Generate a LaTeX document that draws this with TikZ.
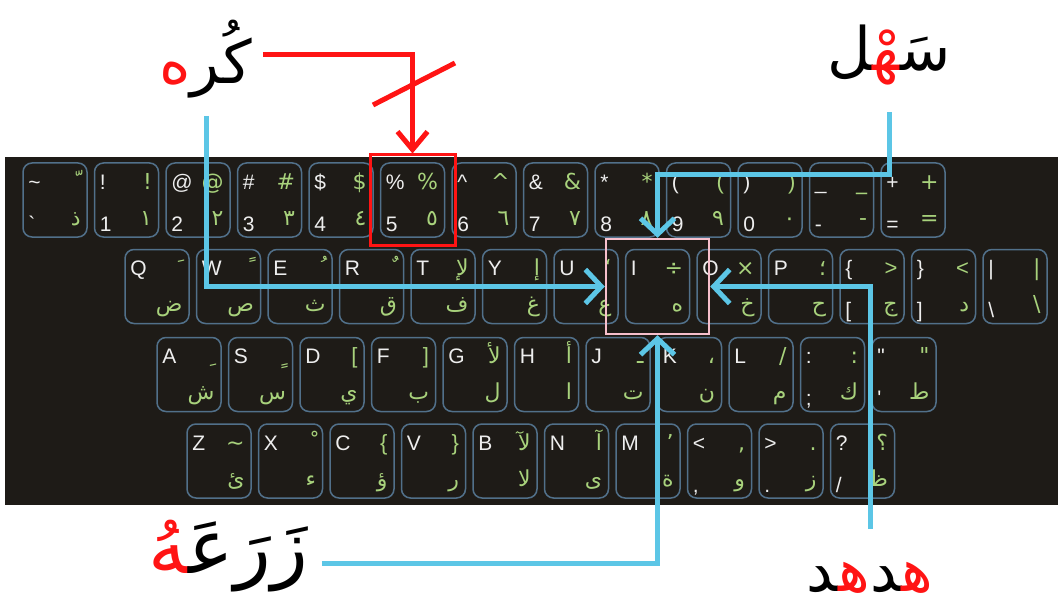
\documentclass[tikz,border=0pt]{standalone}
\usepackage{fontspec}
\usepackage{xcolor}
\usetikzlibrary{arrows.meta,positioning}
\newfontfamily\keyfont{Liberation Sans}
\newfontfamily\arabicfont[Script=Arabic]{DejaVu Sans}
\definecolor{boardbg}{HTML}{1E1B17}
\definecolor{keyedge}{HTML}{51708A}
\definecolor{keyink}{HTML}{EEEEEE}
\definecolor{keygreen}{HTML}{A8D27C}
\definecolor{pointer}{HTML}{5CC6E6}
\definecolor{markred}{HTML}{FF1414}
\definecolor{hilitepink}{HTML}{F7BFCC}

\tikzset{
  keybox/.style={draw=keyedge, line width=1.5pt, rounded corners=9pt, fill=boardbg,
    minimum width=64pt, minimum height=74pt, inner sep=0pt},
  whitelbl/.style={text=keyink, inner sep=0pt, font=\keyfont\fontsize{21}{21}\selectfont},
  greenlbl/.style={text=keygreen, inner sep=0pt, font=\arabicfont\fontsize{22}{22}\selectfont},
  wordlbl/.style={inner sep=0pt, font=\arabicfont\fontsize{60}{60}\selectfont},
  pinkbox/.style={draw=hilitepink, line width=2.5pt, minimum width=103pt, minimum height=95pt, inner sep=0pt},
  redbox/.style={draw=markred, line width=3pt, minimum width=85pt, minimum height=90pt, inner sep=0pt},
  pointerline/.style={draw=pointer, line width=5pt, -{Straight Barb[length=16pt,width=34pt]}},
  redline/.style={draw=markred, line width=5pt, -{Straight Barb[length=18pt,width=30pt]}}
}

% harakat sit on a no-break space
\newcommand{\mk}[1]{^^^^00a0#1}
% brackets in the Arabic font come out mirrored
\newcommand{\lt}[1]{{\keyfont #1}}

% one key: name, centre, top left, top right, bottom left, bottom right
\newcommand{\keycap}[6]{%
  \node[keybox] (#1) at (#2) {};
  \node[whitelbl, anchor=base west] at ([xshift=6pt,yshift=-27pt]#1.north west) {#3};
  \node[greenlbl, anchor=base east] at ([xshift=-7pt,yshift=-27pt]#1.north east) {#4};
  \if\relax\detokenize\expandafter{#5}\relax\else
    \node[whitelbl, anchor=base west] at ([xshift=6pt,yshift=-69pt]#1.north west) {#5};
  \fi
  \node[greenlbl, anchor=base east] at ([xshift=-7pt,yshift=-63pt]#1.north east) {#6};
}

\begin{document}
\begin{tikzpicture}[x=1pt,y=-1pt]
  \useasboundingbox (0,0) rectangle (1058,607);

  % Keyboard
  \fill[boardbg] (5,157) rectangle (1058,505);

  % Number row
  \foreach \sA/\sB/\sC/\sD [count=\i from 0] in {\textasciitilde/\mk{ّ}/`/ذ, !/!/1/١, @/@/2/٢, \#/\#/3/٣, \$/\$/4/٤, \%/\%/5/٥, \textasciicircum/\textasciicircum/6/٦, \&/\&/7/٧, */*/8/٨, {(}/\lt{(}/9/٩, {)}/\lt{)}/0/٠, \_/\_/-/-, +/+/=/=}
    {\keycap{n\i}{55+71.5*\i,200}{\sA}{\sB}{\sC}{\sD}}

  % Q row
  \foreach \sA/\sB/\sC/\sD [count=\i from 0] in {Q/\mk{َ}/{}/ض, W/\mk{ً}/{}/ص, E/\mk{ُ}/{}/ث, R/\mk{ٌ}/{}/ق, T/لإ/{}/ف, Y/إ/{}/غ, U/‘/{}/ع, I/÷/{}/ه, O/×/{}/خ, P/؛/{}/ح, \{/\lt{>}/[/ج, \}/\lt{<}/]/د, \textbar/\textbar/\textbackslash/\textbackslash}
    {\keycap{q\i}{157+71.5*\i,286.5}{\sA}{\sB}{\sC}{\sD}}

  % A row
  \foreach \sA/\sB/\sC/\sD [count=\i from 0] in {A/\mk{ِ}/{}/ش, S/\mk{ٍ}/{}/س, D/\lt{[}/{}/ي, F/\lt{]}/{}/ب, G/لأ/{}/ل, H/أ/{}/ا, J/ـ/{}/ت, K/،/{}/ن, L/{/}/{}/م, :/:/;/ك, "/"/'/ط}
    {\keycap{a\i}{189+71.5*\i,374.5}{\sA}{\sB}{\sC}{\sD}}

  % Z row
  \foreach \sA/\sB/\sC/\sD [count=\i from 0] in {Z/\textasciitilde/{}/ئ, X/\mk{ْ}/{}/ء, C/\lt{\{}/{}/ؤ, V/\lt{\}}/{}/ر, B/لآ/{}/لا, N/آ/{}/ى, M/’/{}/ة, </{,}/{,}/و, >/././ز, ?/؟/{/}/ظ}
    {\keycap{z\i}{219+71.5*\i,461}{\sA}{\sB}{\sC}{\sD}}

  % Marked keys
  \node[pinkbox] (ibox) at (q7) {};
  \node[redbox] (pctbox) at (n5) {};

  % Words
  \node[wordlbl] (kurah) at (206,59) {\textcolor{markred}{ه}كُر};
  \node[wordlbl] (sahl) at (889,55) {^^^^200dل\textcolor{markred}{^^^^200dهْ^^^^200d}سَ^^^^200d};
  \node[wordlbl, font=\arabicfont\fontsize{76}{76}\selectfont] (zaraa) at (228,556) {\textcolor{markred}{^^^^200dهُ}زَرَعَ^^^^200d};
  \node[wordlbl] (hudhud) at (870,578) {^^^^200dد\textcolor{markred}{ه^^^^200d}^^^^200dد\textcolor{markred}{ه^^^^200d}};

  \coordinate[below=18pt of kurah] (kurahfoot);
  \coordinate (kurahtail) at ([xshift=10pt,yshift=4pt]kurah.east);
  \coordinate[below=27pt of sahl] (sahlfoot);
  \coordinate (zaraatail) at ([xshift=14pt,yshift=-7pt]zaraa.east);
  \coordinate[above=33pt of hudhud] (hudhudtop);

  % Pointers into the marked keys
  \draw[pointerline] (kurahfoot) |- (ibox.west);
  \draw[pointerline] (sahlfoot) |- ([yshift=63pt]ibox.north) -- (ibox.north);
  \draw[pointerline] (hudhudtop) |- (ibox.east);
  \draw[pointerline] (zaraatail) -| (ibox.south);
  \draw[redline] (kurahtail) -| (pctbox.north);
  \draw[markred, line width=5pt] (373,105) -- (455,63);
\end{tikzpicture}
\end{document}
